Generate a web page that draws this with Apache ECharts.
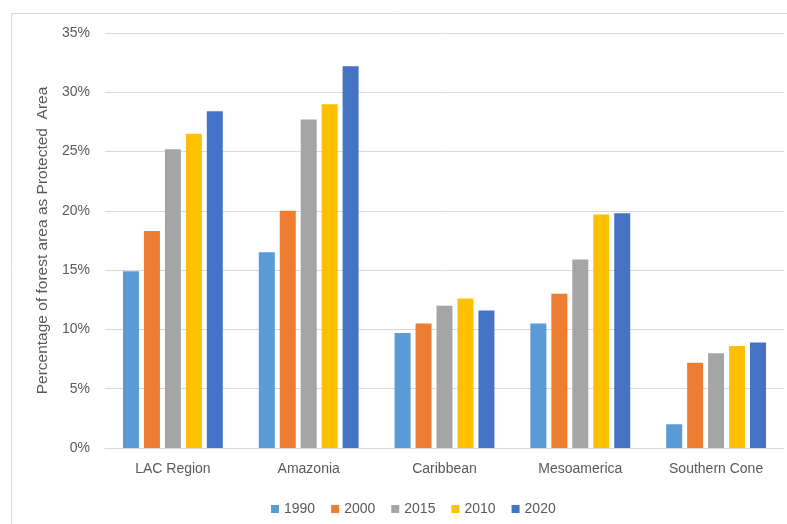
<!DOCTYPE html>
<html>
<head>
<meta charset="utf-8">
<script src="https://cdn.jsdelivr.net/npm/echarts@6/dist/echarts.min.js"></script>
<style>
  html, body { margin: 0; padding: 0; background: #fff; }
  #chart { width: 787px; height: 524px; }
</style>
</head>
<body>
<div id="chart"></div>
<script>
// Regions shown on the category axis
const regions = ['LAC Region', 'Amazonia', 'Caribbean', 'Mesoamerica', 'Southern Cone'];

// Share of forest area under protection (%), one array per year
const y1990 = [14.9, 16.5, 9.7, 10.5, 2.0];
const y2000 = [18.3, 20.0, 10.5, 13.0, 7.2];
const y2015 = [25.2, 27.7, 12.0, 15.9, 8.0];
const y2010 = [26.5, 29.0, 12.6, 19.7, 8.6];
const y2020 = [28.4, 32.2, 11.6, 19.8, 8.9];

// Legend order as labelled
const seriesNames = ['1990', '2000', '2015', '2010', '2020'];
const seriesData = [y1990, y2000, y2015, y2010, y2020];
const seriesColors = ['#5B9BD5', '#ED7D31', '#A5A5A5', '#FFC000', '#4472C4'];

const textColor = '#595959';
const font = 'Liberation Sans';

const chart = echarts.init(document.getElementById('chart'), null, { renderer: 'canvas' });

chart.setOption({
  backgroundColor: '#ffffff',
  animation: false,
  textStyle: { fontFamily: font },
  graphic: [{
    type: 'rect',
    silent: true,
    shape: { x: 11.5, y: 13.5, width: 820, height: 540 },
    style: { fill: 'none', stroke: '#d9d9d9', lineWidth: 1 }
  }],
  grid: { left: 105, right: 3, top: 33, bottom: 76, containLabel: false },
  legend: {
    left: 266,
    top: 497,
    itemWidth: 8,
    itemHeight: 8,
    itemGap: 16,
    icon: 'rect',
    data: seriesNames,
    textStyle: { color: textColor, fontSize: 14, fontFamily: font }
  },
  xAxis: {
    type: 'category',
    data: regions,
    axisLine: { show: true, lineStyle: { color: '#d9d9d9', width: 1 } },
    axisTick: { show: false },
    axisLabel: { color: textColor, fontSize: 14, margin: 14, fontFamily: font }
  },
  yAxis: {
    type: 'value',
    min: 0,
    max: 35,
    interval: 5,
    name: 'Percentage of forest area as Protected  Area',
    nameLocation: 'middle',
    nameRotate: 90,
    nameGap: 46,
    nameTextStyle: { color: textColor, fontSize: 15.5, fontFamily: font },
    axisLine: { show: false },
    axisTick: { show: false },
    axisLabel: { color: textColor, fontSize: 14, margin: 15, formatter: '{value}%', fontFamily: font },
    splitLine: { lineStyle: { color: '#d9d9d9', width: 1 } }
  },
  series: seriesNames.map((name, i) => ({
    name: name,
    type: 'bar',
    data: seriesData[i],
    barWidth: 16,
    barGap: '31%',
    itemStyle: { color: seriesColors[i] }
  }))
});
</script>
</body>
</html>
